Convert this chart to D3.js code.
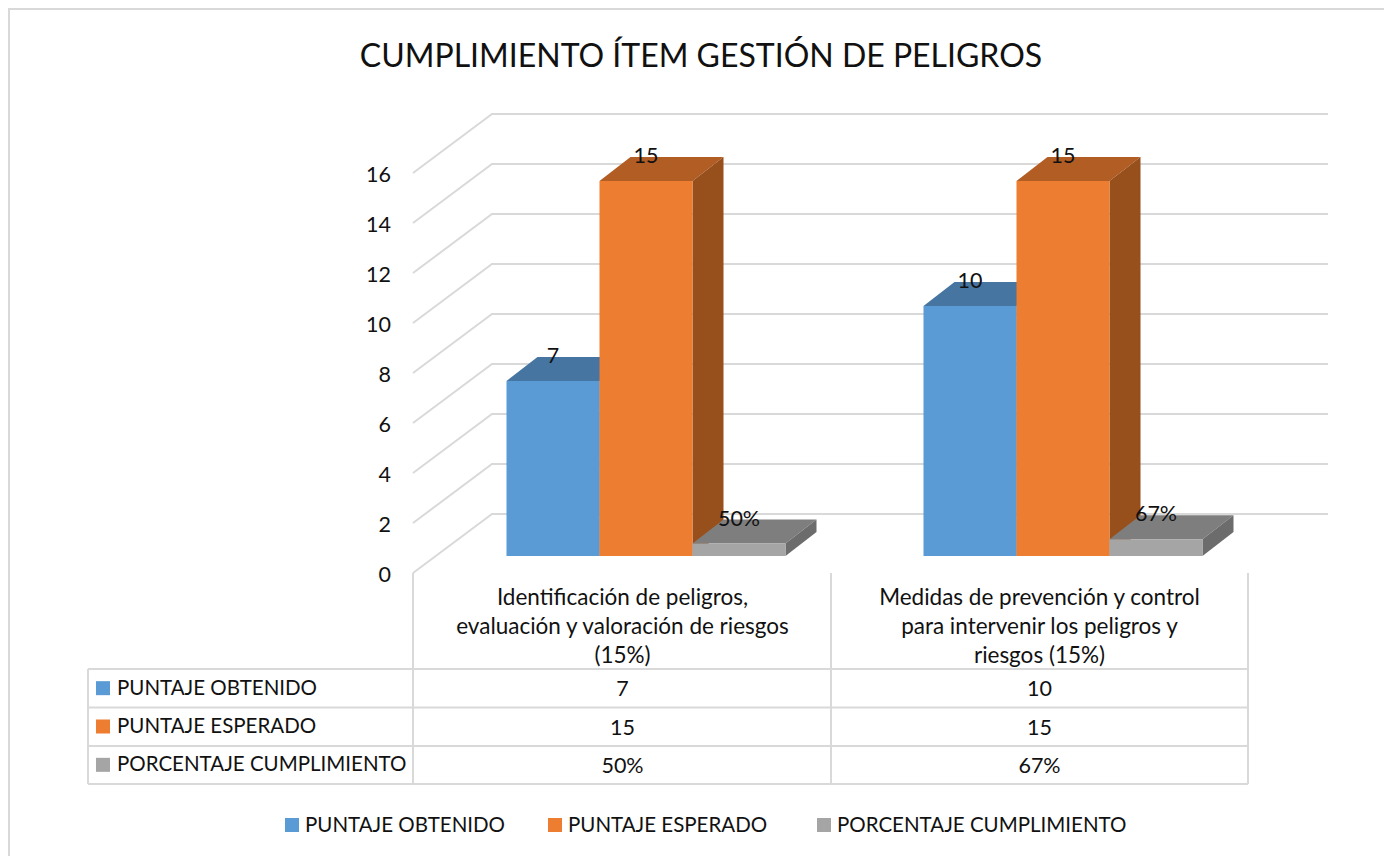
<!DOCTYPE html>
<html>
<head>
<meta charset="utf-8">
<script src="https://cdn.jsdelivr.net/npm/d3@7"></script>
<style>
  html, body { margin: 0; padding: 0; background: #fff; overflow: hidden; }
  text { font-family: Lato, "Open Sans", sans-serif; fill: #111; }
  .axis path { display: none; }
  .axis text { font-family: Lato, "Open Sans", sans-serif; font-size: 21.5px; fill: #111; }
</style>
</head>
<body>
<div id="chart"></div>
<script>
var title = "CUMPLIMIENTO ÍTEM GESTIÓN DE PELIGROS";

var categories = ["cat1", "cat2"];
var categoryLines = [
    ["Identificación de peligros,", "evaluación y valoración de riesgos", "(15%)"],
    ["Medidas de prevención y control", "para intervenir los peligros y", "riesgos (15%)"]
];

var seriesNames = ["PUNTAJE OBTENIDO", "PUNTAJE ESPERADO", "PORCENTAJE CUMPLIMIENTO"];
var puntajeObtenido = [7, 10];
var puntajeEsperado = [15, 15];
var porcentajeCumplimiento = [0.5, 0.67];
var seriesValues = [puntajeObtenido, puntajeEsperado, porcentajeCumplimiento];

var yTicks = [0, 2, 4, 6, 8, 10, 12, 14, 16];

// front, top and side colours of each series
var frontColors = ["#5b9bd5", "#ed7d31", "#a5a5a5"];
var topColors = ["#4675a2", "#b15d24", "#7e7e7e"];
var sideColors = ["#3e6a93", "#974f1c", "#6c6c6c"];

var width = 1384, height = 856;
var gridColor = "#d9d9d9";

// projected depth of one bar
var barDx = 31, barDy = 24;

var svg = d3.select("#chart").append("svg")
    .attr("width", width)
    .attr("height", height);

// chart frame, only left and top show in the window
svg.append("path")
    .attr("d", "M9," + height + "V9H" + width)
    .attr("fill", "none")
    .attr("stroke", gridColor)
    .attr("stroke-width", 2);

svg.append("text")
    .attr("x", 701)
    .attr("y", 67)
    .attr("text-anchor", "middle")
    .style("font-size", "32px")
    .text(title);

// three scales for the same values: floor edge, back wall and bar plane
var yFront = d3.scaleLinear().domain([0, 16]).range([573, 173]);
var yBack = d3.scaleLinear().domain([0, 16]).range([514, 114]);
var yBar = d3.scaleLinear().domain([0, 16]).range([556, 156]);

var x0 = d3.scaleBand().domain(categories).range([414, 1248]);
var x1 = d3.scaleBand().domain(seriesNames).range([92.5, 371.5]);

// grid, diagonal part on the side wall and straight part on the back wall
var grid = svg.append("g")
    .attr("fill", "none")
    .attr("stroke", gridColor)
    .attr("stroke-width", 2);

grid.selectAll("path")
    .data(yTicks)
    .enter().append("path")
    .attr("d", function(d) {
        return "M413," + yFront(d) + "L492," + yBack(d) + "H1328";
    });

svg.append("g")
    .attr("class", "axis")
    .attr("transform", "translate(391,1.5)")
    .call(d3.axisLeft(yFront).tickValues(yTicks).tickSize(0).tickPadding(0));

// bars, drawn series by series so the later ones hide the earlier sides
seriesNames.forEach(function(name, s) {
    var g = svg.append("g");
    var vals = seriesValues[s];

    function left(i) { return x0(categories[i]) + x1(name); }
    function right(i) { return left(i) + x1.bandwidth(); }

    g.selectAll(".top")
        .data(vals)
        .enter().append("path")
        .attr("fill", topColors[s])
        .attr("d", function(d, i) {
            var y = yBar(d);
            return "M" + left(i) + "," + y + "l" + barDx + "," + (-barDy) +
                "H" + (right(i) + barDx) + "l" + (-barDx) + "," + barDy + "Z";
        });

    g.selectAll(".side")
        .data(vals)
        .enter().append("path")
        .attr("fill", sideColors[s])
        .attr("d", function(d, i) {
            return "M" + right(i) + "," + yBar(d) + "l" + barDx + "," + (-barDy) +
                "V" + (yBar(0) - barDy) + "L" + right(i) + "," + yBar(0) + "Z";
        });

    g.selectAll(".front")
        .data(vals)
        .enter().append("rect")
        .attr("fill", frontColors[s])
        .attr("x", function(d, i) { return left(i); })
        .attr("y", function(d) { return yBar(d); })
        .attr("width", x1.bandwidth())
        .attr("height", function(d) { return yBar(0) - yBar(d); });
});

function valueText(s, v) {
    return s === 2 ? d3.format(".0%")(v) : String(v);
}

// data labels go on top of everything
seriesNames.forEach(function(name, s) {
    svg.append("g").selectAll("text")
        .data(seriesValues[s])
        .enter().append("text")
        .attr("x", function(d, i) { return x0(categories[i]) + x1(name) + x1.bandwidth() / 2; })
        .attr("y", function(d) { return yBar(d) - 18; })
        .attr("text-anchor", "middle")
        .style("font-size", "21.5px")
        .text(function(d) { return valueText(s, d); });
});

// data table under the plot
var rowY = d3.scaleBand().domain(seriesNames).range([669, 784]);

var table = svg.append("g")
    .attr("fill", "none")
    .attr("stroke", gridColor)
    .attr("stroke-width", 2);

table.append("path").attr("d", "M88,669H1248M88,707.5H1248M88,746H1248M88,784H1248M88,669V784");
table.append("path").attr("d", "M413,573V784M831,573V784M1248,573V784");

categoryLines.forEach(function(lines, c) {
    svg.append("g").selectAll("text")
        .data(lines)
        .enter().append("text")
        .attr("x", x0(categories[c]) + x0.bandwidth() / 2)
        .attr("y", function(d, i) { return 605 + i * 29; })
        .attr("text-anchor", "middle")
        .style("font-size", "22.5px")
        .text(function(d) { return d; });
});

seriesNames.forEach(function(name, s) {
    var cy = rowY(name) + rowY.bandwidth() / 2;
    svg.append("rect")
        .attr("x", 96)
        .attr("y", cy - 7)
        .attr("width", 14)
        .attr("height", 14)
        .attr("fill", frontColors[s]);
    svg.append("text")
        .attr("x", 117)
        .attr("y", cy + 6.5)
        .style("font-size", "20.5px")
        .text(name);
    svg.append("g").selectAll("text")
        .data(seriesValues[s])
        .enter().append("text")
        .attr("x", function(d, i) { return x0(categories[i]) + x0.bandwidth() / 2; })
        .attr("y", cy + 8)
        .attr("text-anchor", "middle")
        .style("font-size", "21.5px")
        .text(function(d) { return valueText(s, d); });
});

// legend
var legendX = [285, 548, 817];
seriesNames.forEach(function(name, s) {
    svg.append("rect")
        .attr("x", legendX[s])
        .attr("y", 818)
        .attr("width", 14)
        .attr("height", 14)
        .attr("fill", frontColors[s]);
    svg.append("text")
        .attr("x", legendX[s] + 20)
        .attr("y", 832)
        .style("font-size", "20.5px")
        .text(name);
});
</script>
</body>
</html>
